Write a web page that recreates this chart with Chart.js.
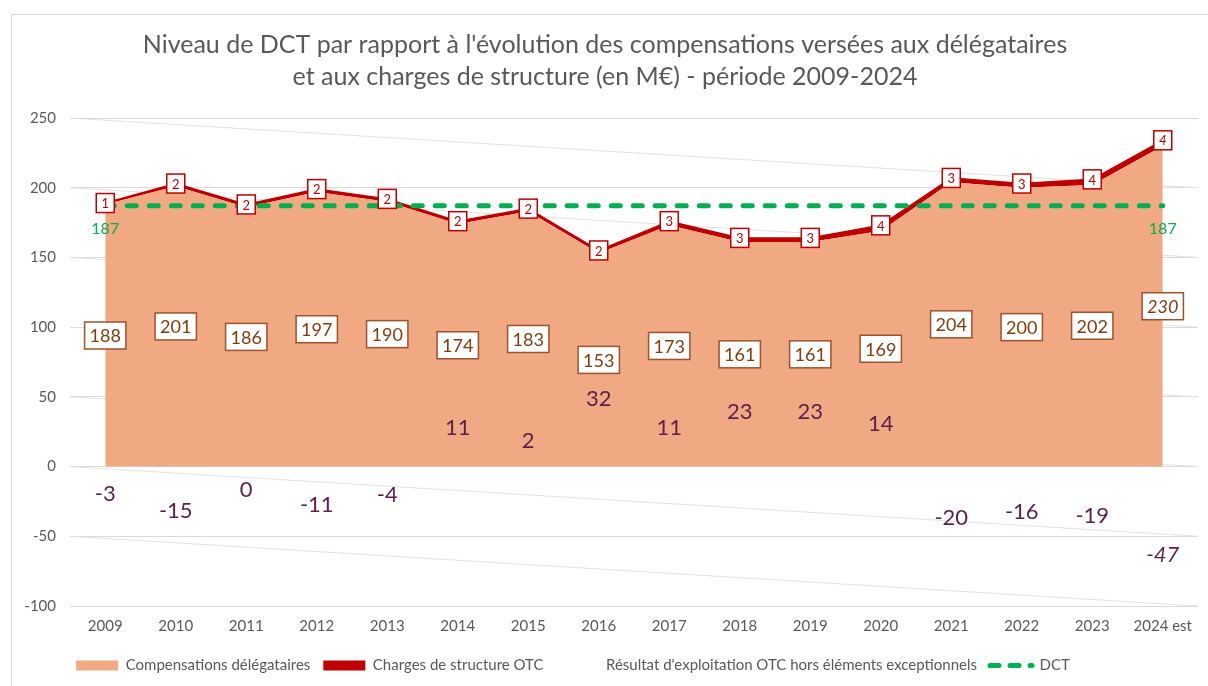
<!DOCTYPE html>
<html lang="fr">
<head>
<meta charset="utf-8">
<script src="https://cdn.jsdelivr.net/npm/chart.js@4.4.1/dist/chart.umd.min.js"></script>
<style>
    body { margin: 0; background: #fff; overflow: hidden; }
    #frame { position: absolute; left: 11px; top: 14px; width: 1260px; height: 720px; border: 1px solid #d9d9d9; }
    #wrap { position: absolute; left: 0; top: 0; width: 1208px; height: 686px; }
</style>
</head>
<body>
<div id="frame"></div>
<div id="wrap"><canvas id="dctChart"></canvas></div>
<script>
const years = ['2009', '2010', '2011', '2012', '2013', '2014', '2015', '2016', '2017', '2018', '2019', '2020', '2021', '2022', '2023', '2024 est']
const compensations = [188, 201, 186, 197, 190, 174, 183, 153, 173, 161, 161, 169, 204, 200, 202, 230]
const charges = [1, 2, 2, 2, 2, 2, 2, 2, 3, 3, 3, 4, 3, 3, 4, 4]
const resultat = [-3, -15, 0, -11, -4, 11, 2, 32, 11, 23, 23, 14, -20, -16, -19, -47]
const dct = [187, 187, 187, 187, 187, 187, 187, 187, 187, 187, 187, 187, 187, 187, 187, 187]

const grey = '#595959'
const lastIndex = years.length - 1

function boxLabel(ctx, text, x, y, font, color, border, minW, h) {
    ctx.font = font
    const w = Math.max(ctx.measureText(text).width + 10, minW)
    ctx.fillStyle = '#ffffff'
    ctx.fillRect(x - w / 2, y - h / 2, w, h)
    ctx.lineWidth = 1.5
    ctx.strokeStyle = border
    ctx.strokeRect(x - w / 2, y - h / 2, w, h)
    ctx.fillStyle = color
    ctx.fillText(text, x, y + 1)
}

// faint slanted grid lines seen in the original picture
const slantedGrid = {
    id: 'slantedGrid',
    beforeDatasetsDraw(chart) {
        const {ctx, chartArea, scales: {y}} = chart
        ctx.save()
        ctx.strokeStyle = '#e2e2e2'
        ctx.lineWidth = 1
        y.ticks.forEach(t => {
            if (t.value - 50 < y.min) return
            ctx.beginPath()
            ctx.moveTo(chartArea.left, y.getPixelForValue(t.value))
            ctx.lineTo(chartArea.right, y.getPixelForValue(t.value - 50))
            ctx.stroke()
        })
        ctx.restore()
    }
}

const valueLabels = {
    id: 'valueLabels',
    afterDatasetsDraw(chart) {
        const {ctx, scales: {y}} = chart
        ctx.save()
        ctx.textAlign = 'center'
        ctx.textBaseline = 'middle'

        chart.getDatasetMeta(0).data.forEach((pt, i) => {
            const it = i === lastIndex ? 'italic ' : ''
            boxLabel(ctx, String(compensations[i]), pt.x, y.getPixelForValue(compensations[i] / 2),
                it + '18px Lato', '#843c0c', '#a0522d', 38, 27)
        })

        chart.getDatasetMeta(1).data.forEach((pt, i) => {
            const it = i === lastIndex ? 'italic ' : ''
            boxLabel(ctx, String(charges[i]), pt.x, pt.y, it + '13px Lato', '#c00000', '#c00000', 18, 19)
        })

        chart.getDatasetMeta(2).data.forEach((pt, i) => {
            const it = i === lastIndex ? 'italic ' : ''
            ctx.font = it + '22px Lato'
            ctx.fillStyle = '#5c1f4b'
            ctx.fillText(String(resultat[i]), pt.x, resultat[i] > 0 ? pt.y - 23 : pt.y + 23)
        })

        const dctPts = chart.getDatasetMeta(3).data
        ctx.font = '16px Lato'
        ctx.fillStyle = '#00b050'
        ;[0, lastIndex].forEach(i => ctx.fillText(String(dct[i]), dctPts[i].x, dctPts[i].y + 23))

        ctx.restore()
    }
}

const shiftLegend = {
    id: 'shiftLegend',
    afterLayout(chart) {
        chart.legend.right -= 64
    }
}

const legendStyles = [
    {fillStyle: '#f1a983', lineWidth: 0, pointStyle: 'rect'},
    {fillStyle: '#c00000', lineWidth: 0, pointStyle: 'rect'},
    {fillStyle: 'rgba(0,0,0,0)', lineWidth: 0, pointStyle: 'rect'},
    {fillStyle: 'rgba(0,0,0,0)', strokeStyle: '#00b050', lineWidth: 5, lineDash: [9, 11], lineCap: 'round', pointStyle: 'line'}
]

const ctx = document.getElementById('dctChart').getContext('2d')

new Chart(ctx, {
    type: 'line',
    data: {
        labels: years,
        datasets: [
            {
                label: 'Compensations délégataires',
                data: compensations,
                stack: 'otc',
                order: 1,
                fill: 'origin',
                backgroundColor: '#f1a983',
                borderColor: '#f1a983',
                borderWidth: 0,
                pointRadius: 0,
                tension: 0
            },
            {
                label: 'Charges de structure OTC',
                data: charges,
                stack: 'otc',
                order: 2,
                fill: '-1',
                backgroundColor: '#c00000',
                borderColor: '#c00000',
                borderWidth: 1.5,
                pointRadius: 0,
                tension: 0
            },
            {
                label: "Résultat d'exploitation OTC hors éléments exceptionnels",
                data: resultat,
                stack: 'res',
                order: 3,
                showLine: false,
                pointRadius: 0,
                backgroundColor: 'rgba(0,0,0,0)',
                borderColor: 'rgba(0,0,0,0)'
            },
            {
                label: 'DCT',
                data: dct,
                stack: 'dct',
                order: 0,
                fill: false,
                borderColor: '#00b050',
                borderWidth: 5,
                borderDash: [9, 13],
                borderCapStyle: 'round',
                pointRadius: 0
            }
        ]
    },
    options: {
        responsive: true,
        maintainAspectRatio: false,
        animation: false,
        layout: {
            padding: {left: 12, right: 10, top: 0, bottom: 3}
        },
        scales: {
            x: {
                offset: true,
                afterFit(scale) {
                    scale.height += 7
                },
                grid: {display: false},
                border: {display: false},
                ticks: {color: grey, font: {family: 'Lato', size: 15}, padding: 3}
            },
            y: {
                stacked: true,
                min: -100,
                max: 250,
                afterFit(scale) {
                    scale.width = 58
                },
                grid: {color: '#d9d9d9', drawTicks: false},
                border: {display: false},
                ticks: {stepSize: 50, color: grey, font: {family: 'Lato', size: 15}, padding: 14}
            }
        },
        plugins: {
            title: {
                display: true,
                text: ["Niveau de DCT par rapport à l'évolution des compensations versées aux délégataires",
                    'et aux charges de structure (en M€) - période 2009-2024'],
                color: grey,
                font: {family: 'Lato', size: 25, weight: 'normal', lineHeight: 1.28},
                padding: {top: 29, bottom: 25}
            },
            legend: {
                position: 'bottom',
                labels: {
                    usePointStyle: true,
                    pointStyleWidth: 42,
                    boxHeight: 10,
                    padding: 13,
                    color: grey,
                    font: {family: 'Lato', size: 15},
                    generateLabels(chart) {
                        return chart.data.datasets.map((ds, i) => Object.assign({
                            text: ds.label,
                            datasetIndex: i,
                            fontColor: grey,
                            hidden: false
                        }, legendStyles[i]))
                    }
                }
            },
            tooltip: {enabled: false}
        }
    },
    plugins: [slantedGrid, valueLabels, shiftLegend]
})
</script>
</body>
</html>
